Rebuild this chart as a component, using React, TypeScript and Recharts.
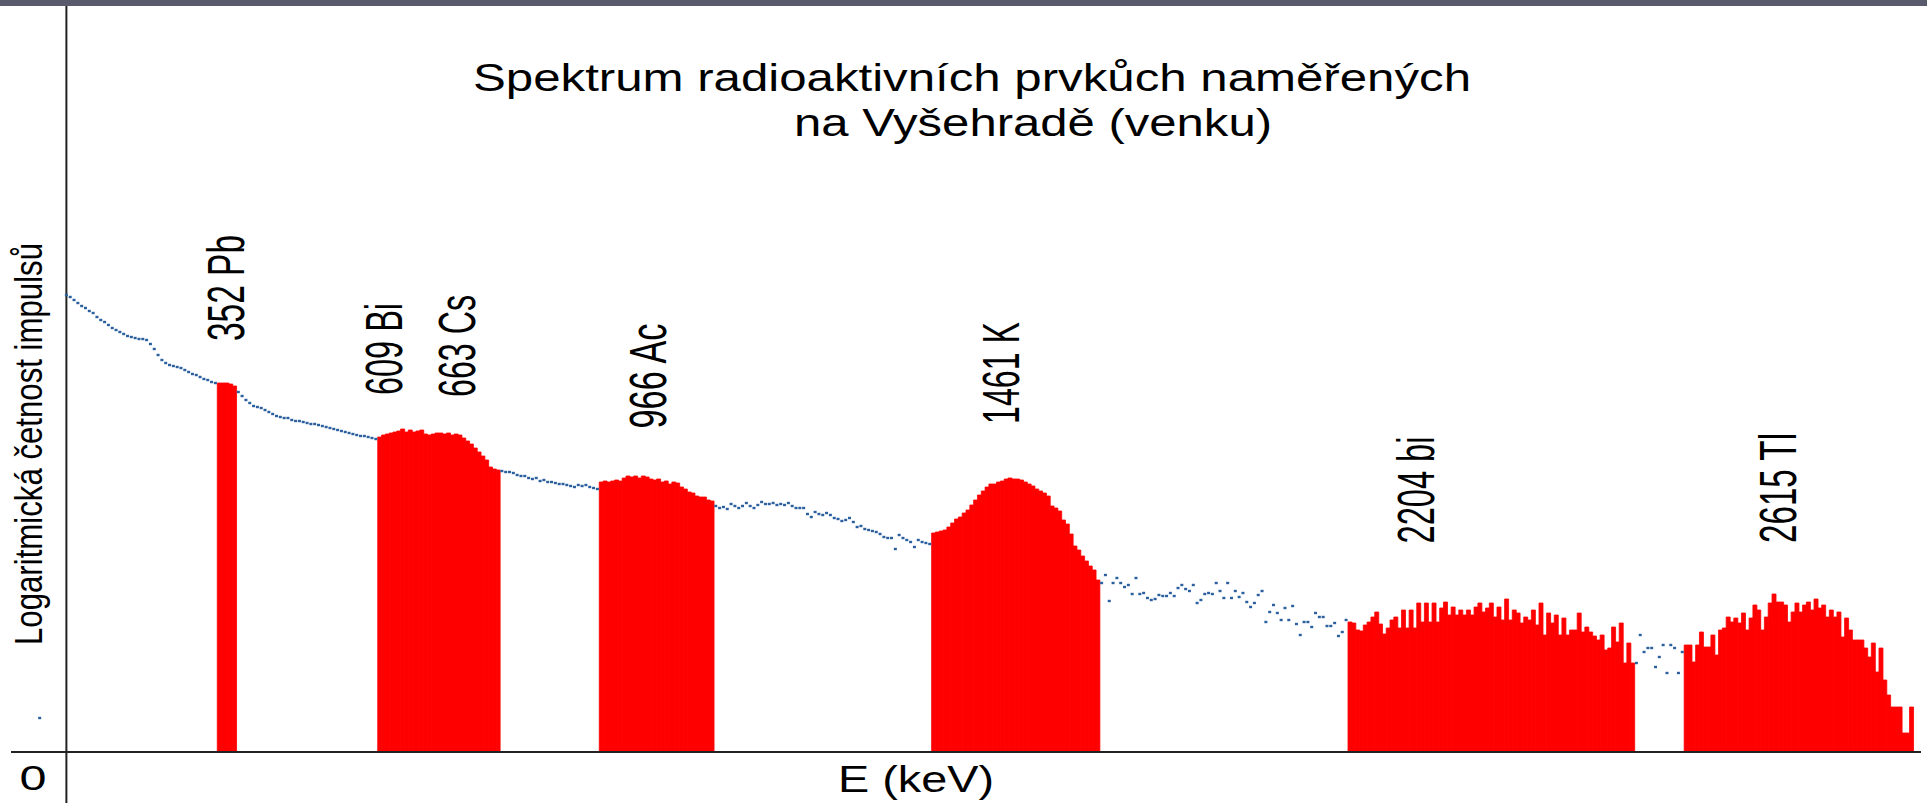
import { Bar, ComposedChart, Line, ReferenceLine, XAxis, YAxis } from "recharts";

// spektrum: 500 kanálů, výška = relativní logaritmická četnost (0–750)
const CHANNELS = 500;

// první kanál každé oblasti
const peakStarts = [54, 96, 154, 241, 350, 438];
const backgroundStarts = [14, 59, 128, 184, 285, 425];
const strayChannels = [7];
const strayCounts = [34];

// píky (červeně)
const pb352 = [369, 369, 369, 368, 366];
const biCs = [
  315, 317, 318, 319, 320, 321, 323, 320, 322, 320, 321, 322, 318, 317, 318, 319,
  319, 318, 319, 317, 318, 317, 314, 311, 308, 304, 300, 296, 292, 285, 283, 282,
];
const ac966 = [
  270, 271, 270, 271, 272, 271, 274, 276, 275, 276, 274, 276, 275, 273, 272, 273,
  270, 271, 268, 270, 269, 265, 263, 260, 259, 256, 255, 255, 252, 251,
];
const k1461 = [
  219, 220, 221, 222, 225, 229, 233, 235, 239, 242, 247, 252, 257, 261, 265, 268,
  268, 270, 271, 273, 274, 273, 273, 272, 270, 268, 266, 263, 261, 259, 256, 246,
  244, 241, 232, 228, 218, 206, 202, 196, 191, 186, 182, 172,
];
const bi2204 = [
  130, 129, 122, 121, 127, 130, 135, 140, 128, 118, 124, 132, 135, 124, 142, 124,
  142, 124, 149, 130, 149, 130, 149, 130, 144, 150, 137, 145, 137, 142, 137, 142,
  137, 145, 149, 140, 144, 149, 135, 145, 132, 153, 132, 142, 139, 129, 135, 132,
  142, 127, 149, 117, 139, 129, 137, 117, 134, 117, 122, 122, 139, 120, 125, 120,
  116, 112, 117, 102, 104, 125, 110, 129, 89, 109, 89,
];
const tl2615 = [
  107, 107, 90, 107, 120, 105, 105, 117, 97, 122, 124, 135, 130, 134, 129, 139,
  122, 134, 147, 142, 122, 135, 149, 158, 150, 150, 147, 130, 140, 149, 140, 147,
  150, 142, 153, 144, 147, 135, 142, 135, 140, 115, 134, 122, 112, 112, 112, 104,
  95, 109, 80, 104, 72, 57, 45, 45, 45, 19, 19, 45,
];

// pozadí (modré body)
const bg1 = [
  457, 455, 452, 449, 446, 444, 441, 439, 435, 432, 430, 427, 424, 422, 420, 418,
  416, 415, 414, 413, 413, 412, 408, 403, 397, 392, 389, 387, 386, 385, 384, 382,
  380, 378, 377, 375, 373, 372, 370, 369,
];
const bg2 = [
  360, 356, 352, 349, 346, 345, 344, 342, 340, 338, 336, 335, 334, 334, 332, 331,
  331, 330, 329, 328, 328, 327, 326, 325, 324, 323, 322, 321, 320, 319, 318, 317,
  316, 316, 315, 314, 313,
];
const bg3 = [
  281, 280, 280, 279, 277, 276, 276, 274, 273, 274, 271, 272, 270, 270, 269, 268,
  268, 267, 266, 265, 267, 266, 267, 265, 264, 263,
];
const bg4 = [
  246, 244, 245, 243, 248, 246, 244, 246, 249, 246, 244, 247, 250, 248, 248, 249,
  247, 248, 247, 249, 246, 244, 244, 244, 238, 235, 240, 238, 237, 239, 237, 234,
  233, 231, 232, 234, 230, 225, 226, 223, 222, 221, 220, 218, 215, 214, 214, 203,
  217, 214, 212, 210, 205, 212, 210, 209, 208,
];
const bg5 = [
  169, 177, 151, 169, 174, 169, 165, 167, 158, 174, 158, 159, 154, 152, 153, 157,
  156, 156, 159, 156, 164, 167, 163, 161, 167, 149, 152, 158, 159, 158, 169, 161,
  154, 169, 154, 161, 155, 159, 150, 145, 149, 157, 161, 130, 140, 147, 139, 132,
  144, 132, 146, 128, 117, 130, 130, 125, 139, 135, 135, 126, 126, 129, 116, 120,
  132,
];
const bg6 = [89, 117, 100, 104, 104, 85, 95, 107, 79, 107, 104, 79, 100];

const peakSeries = [pb352, biCs, ac966, k1461, bi2204, tl2615];
const backgroundSeries = [bg1, bg2, bg3, bg4, bg5, bg6];

const titleLines = [
  "Spektrum radioaktivních prvkůch naměřených",
  "na Vyšehradě (venku)",
];
const peakLabels = ["352 Pb", "609 Bi", "663 Cs", "966 Ac", "1461 K", "2204 bi", "2615 Tl"];

// rozmístění popisků (px)
const titleLayout = [
  { x: 972, y: 91, len: 998 },
  { x: 1033, y: 136, len: 478 },
];
const peakLabelLayout = [
  { x: 244, y: 288, len: 106 },
  { x: 402, y: 349, len: 92 },
  { x: 475, y: 346, len: 102 },
  { x: 666, y: 376, len: 105 },
  { x: 1019, y: 373, len: 102 },
  { x: 1434, y: 490, len: 107 },
  { x: 1796, y: 488, len: 110 },
];

const FONT = "'Liberation Sans', Arial, sans-serif";

type Row = { ch: number; peak: number | null; bg: number | null };

const rows: Row[] = Array.from({ length: CHANNELS }, (_, ch) => ({ ch, peak: null, bg: null }));
peakSeries.forEach((vals, i) => {
  vals.forEach((v, j) => {
    rows[peakStarts[i] + j].peak = v;
  });
});
backgroundSeries.forEach((vals, i) => {
  vals.forEach((v, j) => {
    rows[backgroundStarts[i] + j].bg = v;
  });
});
strayChannels.forEach((ch, i) => {
  rows[ch].bg = strayCounts[i];
});

function StretchText(props: {
  x: number;
  y: number;
  text: string;
  size: number;
  len: number;
  rotate?: boolean;
}) {
  const { x, y, text, size, len, rotate } = props;
  return (
    <text
      x={x}
      y={y}
      fontSize={size}
      fontFamily={FONT}
      fill="#000"
      textAnchor="middle"
      textLength={len}
      lengthAdjust="spacingAndGlyphs"
      transform={rotate ? `rotate(-90 ${x} ${y})` : undefined}
    >
      {text}
    </text>
  );
}

function bgDot(p: any) {
  if (p.cx == null || p.cy == null) return <g key={`d${p.index}`} />;
  return (
    <rect key={`d${p.index}`} x={p.cx - 1.5} y={p.cy - 1.2} width={3} height={2.4} fill="#2c5f9e" />
  );
}

export default function App() {
  return (
    <div
      style={{
        position: "fixed",
        left: 0,
        top: 0,
        width: 1927,
        height: 803,
        background: "#fff",
        overflow: "hidden",
      }}
    >
      <ComposedChart
        width={1927}
        height={803}
        data={rows}
        margin={{ top: 2, right: 6, bottom: 51, left: 11 }}
        barCategoryGap={0}
        barGap={0}
      >
        <XAxis dataKey="ch" type="category" hide />
        <YAxis hide width={0} type="number" domain={[0, 750]} />
        <Bar
          dataKey="peak"
          fill="#ff0000"
          stroke="#ff0000"
          strokeWidth={0.8}
          isAnimationActive={false}
        />
        <Line
          dataKey="bg"
          stroke="none"
          dot={bgDot}
          activeDot={false}
          isAnimationActive={false}
        />
        <ReferenceLine y={0} stroke="#222" strokeWidth={2} ifOverflow="visible" />
        <ReferenceLine
          segment={[
            { x: 14, y: 750 },
            { x: 14, y: -60 },
          ]}
          ifOverflow="visible"
          stroke="#222"
          strokeWidth={2}
        />
      </ComposedChart>
      <svg
        width={1927}
        height={803}
        style={{ position: "absolute", left: 0, top: 0, pointerEvents: "none" }}
      >
        {titleLines.map((t, i) => (
          <StretchText
            key={t}
            x={titleLayout[i].x}
            y={titleLayout[i].y}
            text={t}
            size={38}
            len={titleLayout[i].len}
          />
        ))}
        {peakLabels.map((t, i) => (
          <StretchText
            key={t}
            x={peakLabelLayout[i].x}
            y={peakLabelLayout[i].y}
            text={t}
            size={52}
            len={peakLabelLayout[i].len}
            rotate
          />
        ))}
        <StretchText x={42} y={444} text="Logaritmická četnost impulsů" size={38} len={402} rotate />
        <StretchText x={916} y={792} text="E (keV)" size={37} len={156} />
        <StretchText x={33} y={790} text="0" size={35} len={27} />
      </svg>
      <div
        style={{
          position: "absolute",
          left: 0,
          top: 0,
          width: 1927,
          height: 6,
          background: "#595b6c",
        }}
      />
    </div>
  );
}
